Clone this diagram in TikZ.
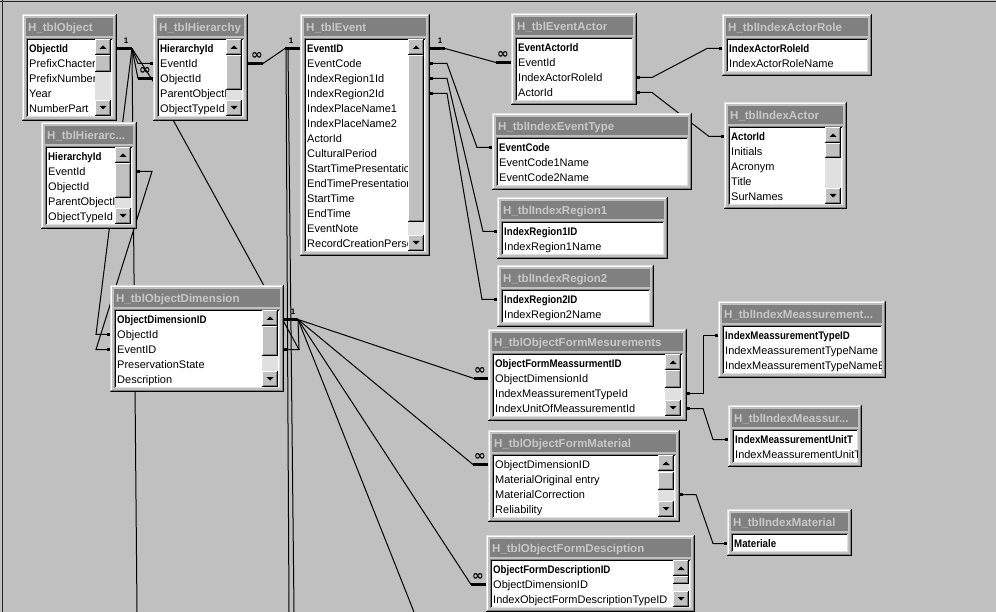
\documentclass[tikz,border=0pt]{standalone}
\usepackage{fontspec}
\usepackage{graphicx}
\setmainfont{Liberation Sans}
\newfontfamily\dvfont{DejaVu Sans}
\usetikzlibrary{calc}
\definecolor{winbg}{HTML}{C0C0C0}
\definecolor{winshadow}{HTML}{808080}
\definecolor{winlight}{HTML}{DFDFDF}
\definecolor{dither}{HTML}{E0E0E0}
\definecolor{titlefg}{HTML}{C8C8C8}
\pgfdeclarelayer{back}
\pgfdeclarelayer{links}
\pgfsetlayers{back,links,main}
\tikzset{
  rowtext/.style={inner sep=0, anchor=base west, font=\fontsize{11}{11}\selectfont},
  titletext/.style={inner sep=0, anchor=base west, text=titlefg, font=\fontsize{11.5}{11.5}\selectfont\bfseries},
  rel/.style={line width=1pt, black},
  stub/.style={line width=3pt, black},
  onelbl/.style={inner sep=0, font=\fontsize{8}{8}\selectfont\bfseries},
  manylbl/.style={inner sep=0, font=\dvfont\fontsize{14}{14}\selectfont\bfseries},
}
\newcommand\kb[1]{\scalebox{0.88}[1]{\bfseries #1}}
\newcommand\raisedbox[4]{%
  \fill[winbg] (#1,#2) rectangle (#3,#4);
  \draw[white, line width=1pt] (#1+0.5,#4-1) -- (#1+0.5,#2+0.5) -- (#3-1,#2+0.5);
  \draw[black, line width=1pt] (#1,#4-0.5) -- (#3-0.5,#4-0.5) -- (#3-0.5,#2);
  \draw[winshadow, line width=1pt] (#1+1,#4-1.5) -- (#3-1.5,#4-1.5) -- (#3-1.5,#2+1);
}
\newcommand\sbar[5]{%
  \fill[dither] (#1,#2) rectangle (#1+16,#3);
  \raisedbox{#1}{#2}{#1+16}{#2+16}
  \fill[black] (#1+4.5,#2+10) -- (#1+11.5,#2+10) -- (#1+8,#2+6.5) -- cycle;
  \raisedbox{#1}{#3-16}{#1+16}{#3}
  \fill[black] (#1+4.5,#3-10) -- (#1+11.5,#3-10) -- (#1+8,#3-6.5) -- cycle;
  \raisedbox{#1}{#4}{#1+16}{#5}
}
\newcommand\dbtable[8]{%
  \pgfmathsetmacro\ybot{#3+15*#5+32}%
  \pgfmathsetmacro\tbw{#4-#2}%
  \pgfmathsetmacro\tbh{15*#5+32}%
  \node[inner sep=0, minimum width=\tbw pt, minimum height=\tbh pt, anchor=north west, fill=winbg] (#1) at (#2,#3) {};
  \draw[winlight] (#2+0.5,\ybot-1) -- (#2+0.5,#3+0.5) -- (#4-1,#3+0.5);
  \draw[white] (#2+1.5,\ybot-2) -- (#2+1.5,#3+1.5) -- (#4-2,#3+1.5);
  \draw[black] (#2,\ybot-0.5) -- (#4-0.5,\ybot-0.5) -- (#4-0.5,#3);
  \draw[winshadow] (#2+1,\ybot-1.5) -- (#4-1.5,\ybot-1.5) -- (#4-1.5,#3+1);
  \fill[winshadow] (#2+4,#3+4) rectangle (#4-4,#3+22);
  \begin{scope}
    \clip (#2+4,#3+4) rectangle (#4-4,#3+22);
    \node[titletext] (#1-title) at (#2+6,#3+17.5) {#6};
  \end{scope}
  \fill[white] (#2+4,#3+24) rectangle (#4-4,\ybot-4);
  \draw[winshadow] (#2+4.5,\ybot-4) -- (#2+4.5,#3+24.5) -- (#4-4,#3+24.5);
  \draw[black] (#2+5.5,\ybot-5) -- (#2+5.5,#3+25.5) -- (#4-5,#3+25.5);
  \draw[winlight] (#2+5,\ybot-4.5) -- (#4-4.5,\ybot-4.5) -- (#4-4.5,#3+25);
  \begin{scope}
    \clip (#2+6,#3+26) rectangle (#8,\ybot-5);
    \foreach \rowtxt [count=\i] in {#7} {
      \node[rowtext] (#1-f\i) at (#2+7,#3+38.5+15*\i-15) {\rowtxt};
    }
  \end{scope}
  \foreach \i in {1,...,#5} {
    \coordinate (#1-L\i) at (#2,#3+34.5+15*\i-15);
    \coordinate (#1-R\i) at (#4,#3+34.5+15*\i-15);
  }
}
\newcommand\edot[2]{\fill[black] ($(#1)+(#2-1.5,-1.5)$) rectangle ($(#1)+(#2+1.5,1.5)$);}
\begin{document}
\begin{tikzpicture}[x=1pt,y=-1pt]
\useasboundingbox (0,0) rectangle (996,612);
\begin{pgfonlayer}{back}
  \fill[winbg] (0,0) rectangle (996,612);
  \draw[black!85, line width=1pt] (0,1.5) -- (996,1.5);
  \draw[black!85, line width=1pt] (2.5,0) -- (2.5,612);
\end{pgfonlayer}

% ---------- tables ----------
\dbtable{obj}{22}{14}{117}{5}{H\_tblObject}{\kb{ObjectId}, PrefixChacter, PrefixNumber, Year, NumberPart}{95}
\sbar{95}{39}{116}{55}{72}
\dbtable{hier}{153}{14}{248}{5}{H\_tblHierarchy}{\kb{HierarchyId}, EventId, ObjectId, ParentObjectI, ObjectTypeId}{226}
\sbar{226}{39}{116}{55}{90}
\dbtable{hier2}{41}{122}{137}{5}{H\_tblHierarc...}{\kb{HierarchyId}, EventId, ObjectId, ParentObjectI, ObjectTypeId}{115}
\sbar{115}{147}{224}{163}{198}
\dbtable{ev}{300}{14}{430}{14}{H\_tblEvent}{\kb{EventID}, EventCode, IndexRegion1Id, IndexRegion2Id, IndexPlaceName1, IndexPlaceName2, ActorId, CulturalPeriod, StartTimePresentatio, EndTimePresentation, StartTime, EndTime, EventNote, RecordCreationPerso}{408}
\sbar{408}{39}{251}{55}{222}
\dbtable{ea}{511}{13}{637}{4}{H\_tblEventActor}{\kb{EventActorId}, EventId, IndexActorRoleId, ActorId}{632}
\dbtable{iet}{492}{113}{692}{3}{H\_tblIndexEventType}{\kb{EventCode}, EventCode1Name, EventCode2Name}{687}
\dbtable{ir1}{497}{197}{668}{2}{H\_tblIndexRegion1}{\kb{IndexRegion1ID}, IndexRegion1Name}{663}
\dbtable{ir2}{497}{265}{654}{2}{H\_tblIndexRegion2}{\kb{IndexRegion2ID}, IndexRegion2Name}{649}
\dbtable{mes}{488}{329}{687}{4}{H\_tblObjectFormMesurements}{\kb{ObjectFormMeassurmentID}, ObjectDimensionId, IndexMeassurementTypeId, IndexUnitOfMeassurementId}{665}
\sbar{665}{354}{416}{370}{388}
\dbtable{mat}{488}{430}{680}{4}{H\_tblObjectFormMaterial}{ObjectDimensionID, MaterialOriginal entry, MaterialCorrection, Reliability}{658}
\sbar{658}{455}{517}{472}{490}
\dbtable{desc}{486}{535}{695}{3}{H\_tblObjectFormDesciption}{\kb{ObjectFormDescriptionID}, ObjectDimensionID, IndexObjectFormDescriptionTypeID}{673}
\sbar{673}{560}{607}{576}{584}
\dbtable{iar}{722}{14}{872}{2}{H\_tblIndexActorRole}{\kb{IndexActorRoleId}, IndexActorRoleName}{867}
\dbtable{ia}{724}{102}{847}{5}{H\_tblIndexActor}{\kb{ActorId}, Initials, Acronym, Title, SurNames}{825}
\sbar{825}{127}{204}{143}{158}
\dbtable{imt}{718}{301}{886}{3}{H\_tblIndexMeassurement...}{\kb{IndexMeassurementTypeID}, IndexMeassurementTypeName, IndexMeassurementTypeNameE}{881}
\dbtable{imu}{728}{405}{862}{2}{H\_tblIndexMeassur...}{\kb{IndexMeassurementUnitT}, IndexMeassurementUnitT}{857}
\dbtable{imat}{727}{509}{852}{1}{H\_tblIndexMaterial}{\kb{Materiale}}{847}
\dbtable{od}{110}{285}{284}{5}{H\_tblObjectDimension}{\kb{ObjectDimensionID}, ObjectId, EventID, PreservationState, Description}{262}
\sbar{262}{310}{387}{326}{356}

% ---------- connectors ----------
\begin{pgfonlayer}{links}
  % Object.ObjectId (1)
  \coordinate (o1) at ($(obj-R1)+(15,0)$);
  \draw[stub] (obj-R1) -- (o1);
  \coordinate (hierM) at ($(hier-L3)+(-15,0)$);
  \draw[rel] (o1) -- (hierM);
  \draw[stub] (hierM) -- (hier-L3);
  \coordinate (hierE) at ($(hier-L2)+(-15,0)$);
  \draw[rel] (o1) -- (hierE) -- (hier-L2);
  \coordinate (hierP) at ($(hier-L4)+(8,0)$);
  \draw[rel] (o1) -- (hierP);
  \coordinate (odO) at ($(od-L2)+(-14,0)$);
  \draw[rel] (o1) -- (odO) -- (od-L2);
  \coordinate (offA) at (137,612);
  \draw[rel] (o1) -- (offA);
  % second hierarchy EventId
  \coordinate (h2e) at ($(hier2-R2)+(15,0)$);
  \coordinate (odE) at ($(od-L3)+(-14,0)$);
  \draw[rel] (hier2-R2) -- (h2e) -- (odE) -- (od-L3);
  % Event.EventID (1) on the left
  \coordinate (e1) at ($(ev-L1)+(-15,0)$);
  \draw[stub] (e1) -- (ev-L1);
  \coordinate (hierEv) at ($(hier-R2)+(15,0)$);
  \draw[rel] (e1) -- (hierEv);
  \draw[stub] (hierEv) -- (hier-R2);
  \coordinate (e1a) at ($(e1)+(1,0)$);
  \coordinate (e1b) at ($(e1)+(3,0)$);
  \coordinate (offB) at (289,612);
  \coordinate (offC) at (294,612);
  \draw[rel] (e1a) -- (offB);
  \draw[rel] (e1b) -- (offC);
  % line from the hierarchy to ObjectDimension.EventID
  \coordinate (hb) at (172,118);
  \coordinate (odEr) at ($(od-R3)+(15,0)$);
  \coordinate (od1) at ($(od-R1)+(14,0)$);
  \draw[rel] (hb) -- (odEr) -- (od-R3);
  \draw[rel] (odEr) -- (od1);
  % ObjectDimension.ObjectDimensionID (1)
  \draw[stub] (od-R1) -- (od1);
  \coordinate (mesM) at ($(mes-L2)+(-14,0)$);
  \draw[rel] (od1) -- (mesM);
  \draw[stub] (mesM) -- (mes-L2);
  \coordinate (matM) at ($(mat-L1)+(-15,0)$);
  \draw[rel] (od1) -- (matM);
  \draw[stub] (matM) -- (mat-L1);
  \coordinate (descM) at ($(desc-L2)+(-15,0)$);
  \draw[rel] (od1) -- (descM);
  \draw[stub] (descM) -- (desc-L2);
  \coordinate (offD) at (414,612);
  \draw[rel] (od1) -- (offD);
  % Event.EventID (1) -> EventActor
  \coordinate (e2) at ($(ev-R1)+(15,0)$);
  \draw[stub] (ev-R1) -- (e2);
  \coordinate (eaM) at ($(ea-L2)+(-15,0)$);
  \draw[rel] (e2) -- (eaM);
  \draw[stub] (eaM) -- (ea-L2);
  % Event lookups
  \draw[rel] (ev-R2) -- ++(17,0) -- ($(iet-L1)+(-15,0)$) -- (iet-L1);
  \draw[rel] (ev-R3) -- ++(17,0) -- ($(ir1-L1)+(-14,0)$) -- (ir1-L1);
  \draw[rel] (ev-R4) -- ++(17,0) -- ($(ir2-L1)+(-15,0)$) -- (ir2-L1);
  % EventActor lookups
  \draw[rel] (ea-R3) -- ++(15,0) -- ($(iar-L1)+(-15,0)$) -- (iar-L1);
  \draw[rel] (ea-R4) -- ++(15,0) -- ($(ia-L1)+(-15,0)$) -- (ia-L1);
  % measurement / material lookups
  \draw[rel] (mes-R3) -- ++(16,0) -- ($(imt-L1)+(-15,0)$) -- (imt-L1);
  \draw[rel] (mes-R4) -- ++(16,0) -- ($(imu-L1)+(-15,0)$) -- (imu-L1);
  \draw[rel] (mat-R3) -- ++(16,0) -- ($(imat-L1)+(-14,0)$) -- (imat-L1);
\end{pgfonlayer}

% ---------- cardinality labels ----------
\node[onelbl] (l1) at ($(obj-R1)+(9,-8)$) {1};
\node[manylbl] (m1) at ($(hier-L3)+(-8,-8)$) {∞};
\node[onelbl] (l2) at ($(ev-L1)+(-9,-8)$) {1};
\node[manylbl] (m2) at ($(hier-R2)+(9,-8)$) {∞};
\node[onelbl] (l3) at ($(ev-R1)+(10,-8)$) {1};
\node[manylbl] (m3) at ($(ea-L2)+(-8,-8)$) {∞};
\node[onelbl] (l4) at ($(od-R1)+(9,-8)$) {1};
\node[manylbl] (m4) at ($(mes-L2)+(-8,-8)$) {∞};
\node[manylbl] (m5) at ($(mat-L1)+(-8,-8)$) {∞};
\node[manylbl] (m6) at ($(desc-L2)+(-8,-8)$) {∞};

% ---------- join dots ----------
\edot{hier-L2}{-1.5}
\edot{od-L2}{-1.5}
\edot{od-L3}{-1.5}
\edot{hier2-R2}{1.5}
\edot{od-R3}{1.5}
\edot{ev-R2}{1.5}
\edot{ev-R3}{1.5}
\edot{ev-R4}{1.5}
\edot{iet-L1}{-1.5}
\edot{ir1-L1}{-1.5}
\edot{ir2-L1}{-1.5}
\edot{ea-R3}{1.5}
\edot{ea-R4}{1.5}
\edot{iar-L1}{-1.5}
\edot{ia-L1}{-1.5}
\edot{mes-R3}{1.5}
\edot{mes-R4}{1.5}
\edot{imt-L1}{-1.5}
\edot{imu-L1}{-1.5}
\edot{mat-R3}{1.5}
\edot{imat-L1}{-1.5}
\end{tikzpicture}
\end{document}
